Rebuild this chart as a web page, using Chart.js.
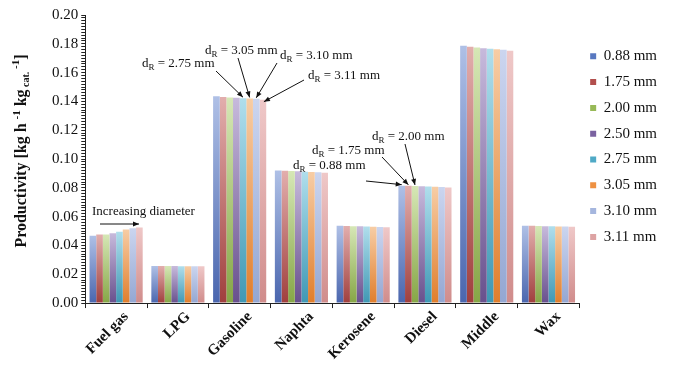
<!DOCTYPE html>
<html><head><meta charset="utf-8">
<script src="https://cdn.jsdelivr.net/npm/chart.js@4.4.1/dist/chart.umd.min.js"></script>
<style>html,body{margin:0;padding:0;background:#fff}#wrap{width:679px;height:365px;position:relative}</style>
</head><body><div id="wrap"><canvas id="c" width="679" height="365"></canvas></div>
<script>
const categories = ['Fuel gas','LPG','Gasoline','Naphta','Kerosene','Diesel','Middle','Wax'];
const diameters = ['0.88 mm','1.75 mm','2.00 mm','2.50 mm','2.75 mm','3.05 mm','3.10 mm','3.11 mm'];
const d088 = [0.0467,0.0258,0.1435,0.0920,0.0537,0.0815,0.1786,0.0537];
const d175 = [0.0476,0.0257,0.1431,0.0918,0.0535,0.0814,0.1779,0.0536];
const d200 = [0.0476,0.0257,0.1428,0.0917,0.0534,0.0813,0.1775,0.0535];
const d250 = [0.0485,0.0257,0.1426,0.0915,0.0533,0.0811,0.1770,0.0534];
const d275 = [0.0495,0.0256,0.1422,0.0912,0.0531,0.0809,0.1765,0.0533];
const d305 = [0.0511,0.0256,0.1421,0.0910,0.0530,0.0808,0.1763,0.0532];
const d310 = [0.0520,0.0256,0.1418,0.0908,0.0528,0.0806,0.1758,0.0531];
const d311 = [0.0525,0.0255,0.1412,0.0904,0.0526,0.0803,0.1751,0.0529];
const seriesValues = [d088,d175,d200,d250,d275,d305,d310,d311];
const yTickLabels = ['0.00','0.02','0.04','0.06','0.08','0.10','0.12','0.14','0.16','0.18','0.20'];

const baseColors = ['#5878C0','#B24F4D','#97B957','#7A62A0','#4FA9C6','#EE9142','#A5B6DE','#DDA3A3'];
const darkColors = ['#4A66AE','#A03F3D','#86A646','#68508D','#3F98B4','#E07E2C','#94A7D2','#D08C8B'];
const lightColors = ['#AFC0E6','#E2AEAD','#D6E7B6','#C7BADC','#B0DEEC','#F7CDA5','#CBD5EF','#EFC8C8'];

const SERIF = "'Liberation Serif','Times New Roman',serif";

function gradFor(i){
  return function(ctx){
    const ch = ctx.chart;
    if (!ch.chartArea || ctx.raw === undefined) return baseColors[i];
    const ys = ch.scales.y;
    const top = ys.getPixelForValue(ctx.raw);
    const bot = ys.getPixelForValue(0);
    const g = ch.ctx.createLinearGradient(0, bot, 0, top);
    g.addColorStop(0, darkColors[i]);
    g.addColorStop(1, lightColors[i]);
    return g;
  };
}

function drawDR(ctx, x, y, rest){
  ctx.save();
  ctx.fillStyle = '#111';
  ctx.textBaseline = 'middle';
  ctx.textAlign = 'left';
  ctx.font = '13px ' + SERIF;
  ctx.fillText('d', x, y);
  let w = ctx.measureText('d').width;
  ctx.font = '9px ' + SERIF;
  ctx.fillText('R', x + w, y + 4);
  w += ctx.measureText('R').width;
  ctx.font = '13px ' + SERIF;
  ctx.fillText(' = ' + rest, x + w, y);
  ctx.restore();
}
function arrow(ctx, x1, y1, x2, y2){
  ctx.save();
  ctx.strokeStyle = '#111'; ctx.fillStyle = '#111'; ctx.lineWidth = 1;
  ctx.beginPath(); ctx.moveTo(x1, y1); ctx.lineTo(x2, y2); ctx.stroke();
  const a = Math.atan2(y2 - y1, x2 - x1), L = 6, W = 2.5;
  ctx.beginPath();
  ctx.moveTo(x2, y2);
  ctx.lineTo(x2 - L*Math.cos(a) + W*Math.sin(a), y2 - L*Math.sin(a) - W*Math.cos(a));
  ctx.lineTo(x2 - L*Math.cos(a) - W*Math.sin(a), y2 - L*Math.sin(a) + W*Math.cos(a));
  ctx.closePath(); ctx.fill();
  ctx.restore();
}

const annot = {
  id: 'annot',
  afterDatasetsDraw(chart){
    const ctx = chart.ctx;
    const tip = (di, ci) => { const e = chart.getDatasetMeta(di).data[ci]; return [e.x, e.y - 1]; };
    let p;
    drawDR(ctx, 142, 64, '2.75 mm'); p = tip(4, 2); arrow(ctx, 216, 71, p[0], p[1]);
    drawDR(ctx, 205, 51, '3.05 mm'); p = tip(5, 2); arrow(ctx, 238, 58, p[0], p[1]);
    drawDR(ctx, 280, 56, '3.10 mm'); p = tip(6, 2); arrow(ctx, 277, 63, p[0], p[1]);
    drawDR(ctx, 308, 76, '3.11 mm'); p = tip(7, 2); arrow(ctx, 304, 80, p[0] + 1, p[1] + 3);
    drawDR(ctx, 372, 137, '2.00 mm'); p = tip(2, 5); arrow(ctx, 405, 144, p[0], p[1]);
    drawDR(ctx, 312, 151, '1.75 mm'); p = tip(1, 5); arrow(ctx, 382, 157, p[0], p[1]);
    drawDR(ctx, 293, 166, '0.88 mm'); p = tip(0, 5); arrow(ctx, 366, 181, p[0], p[1]);
    ctx.save();
    ctx.fillStyle = '#111'; ctx.font = '13px ' + SERIF; ctx.textBaseline = 'middle'; ctx.textAlign = 'left';
    ctx.fillText('Increasing diameter', 92, 212);
    ctx.restore();
    arrow(ctx, 100, 224, 139, 224);
    ctx.save();
    ctx.translate(22, 151);
    ctx.rotate(-Math.PI/2);
    ctx.fillStyle = '#111';
    ctx.textBaseline = 'middle'; ctx.textAlign = 'left';
    const segs = [
      {t:'Productivity [kg h ', s:16, dy:0},
      {t:'-1', s:11, dy:-5},
      {t:' kg', s:16, dy:0},
      {t:' cat.', s:10, dy:4},
      {t:' -1', s:11, dy:-6},
      {t:']', s:16, dy:0}
    ];
    let tot = 0;
    segs.forEach(sg => { ctx.font = 'bold ' + sg.s + 'px ' + SERIF; sg.w = ctx.measureText(sg.t).width; tot += sg.w; });
    let x = -tot/2;
    segs.forEach(sg => { ctx.font = 'bold ' + sg.s + 'px ' + SERIF; ctx.fillText(sg.t, x, sg.dy); x += sg.w; });
    ctx.restore();
  }
};

new Chart(document.getElementById('c'), {
  type: 'bar',
  data: {
    labels: categories,
    datasets: diameters.map((d, i) => ({
      label: d,
      data: seriesValues[i],
      backgroundColor: gradFor(i),
      borderWidth: 0,
      barPercentage: 1.0,
      categoryPercentage: 0.86
    }))
  },
  options: {
    responsive: false,
    animation: false,
    events: [],
    layout: { padding: { left: 49, top: 15, right: 12, bottom: 2 } },
    plugins: {
      tooltip: { enabled: false },
      legend: {
        position: 'right',
        align: 'start',
        title: { display: true, text: ' ', font: { size: 10 }, padding: { top: 11, bottom: 0 } },
        labels: {
          boxWidth: 6, boxHeight: 6, padding: 10.8,
          color: '#111',
          font: { family: SERIF, size: 15 },
          generateLabels(chart){
            return chart.data.datasets.map((ds, i) => ({
              text: ds.label, fillStyle: baseColors[i], strokeStyle: baseColors[i], lineWidth: 0,
              hidden: false, datasetIndex: i, fontColor: '#111'
            }));
          }
        }
      }
    },
    scales: {
      x: {
        grid: { display: true, drawOnChartArea: false, offset: true, tickLength: 5, color: '#222' },
        border: { display: true, color: '#222', width: 1 },
        ticks: { color: '#111', maxRotation: 45, minRotation: 45, padding: 0, labelOffset: 10,
          font: { family: SERIF, size: 15, weight: 'bold' } }
      },
      y: {
        min: 0, max: 0.2,
        grid: { display: true, drawOnChartArea: false, tickLength: 4, color: '#222' },
        border: { display: true, color: '#222', width: 1 },
        ticks: {
          stepSize: 0.002, maxTicksLimit: 200, autoSkip: false, color: '#111', padding: 3,
          font: { family: SERIF, size: 15 },
          callback(v){
            const k = Math.round(v / 0.002);
            if (k % 10 !== 0) return '';
            return yTickLabels[k / 10];
          }
        }
      }
    }
  },
  plugins: [annot]
});
</script></body></html>
